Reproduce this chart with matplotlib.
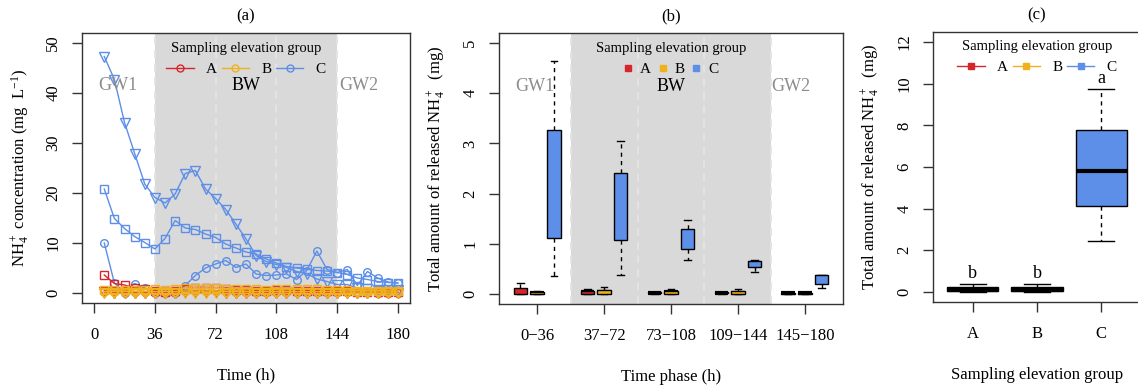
import numpy as np
import matplotlib
matplotlib.use("Agg")
import matplotlib.pyplot as plt
from matplotlib.lines import Line2D

plt.rcParams['font.family'] = ['Liberation Serif', 'DejaVu Serif']
plt.rcParams['mathtext.fontset'] = 'custom'
plt.rcParams['mathtext.rm'] = 'Liberation Serif'
plt.rcParams['mathtext.it'] = 'Liberation Serif:italic'
plt.rcParams['mathtext.bf'] = 'Liberation Serif:bold'

# ---- data: panel (a), NH4+ concentration every 6 h ----
time_h = np.arange(6, 181, 6)
A_circle = [0.5, 0.4, 0.4, 0.3, 0.3, 0.3, 0.2, 0.3, 0.4, 0.5, 0.5, 0.4, 0.4, 0.3, 0.3,
            0.2, 0.2, 0.3, 0.3, 0.3, 0.2, 0.2, 0.2, 0.2, 0.2, 0.2, 0.2, 0.1, 0.1, 0.1]
A_square = [3.6, 1.9, 1.6, 1.0, 0.8, 0.5, 0.3, 0.5, 0.9, 1.1, 1.1, 1.0, 0.9, 0.7, 0.6,
            0.5, 0.4, 0.6, 0.6, 0.5, 0.5, 0.5, 0.5, 0.4, 0.4, 0.3, 0.3, 0.3, 0.3, 0.2]
A_triangle = [0.2, 0.1, 0.1, 0.1, 0.1, 0.1, 0.1, 0.1, 0.2, 0.2, 0.2, 0.2, 0.1, 0.1, 0.1,
              0.1, 0.1, 0.1, 0.1, 0.1, 0.1, 0.1, 0.1, 0.1, 0.1, 0.1, 0.1, 0.1, 0.1, 0.1]
B_circle = [0.3, 0.3, 0.3, 0.3, 0.3, 0.3, 0.3, 0.3, 0.4, 0.4, 0.4, 0.4, 0.3, 0.3, 0.3,
            0.3, 0.3, 0.3, 0.3, 0.3, 0.3, 0.3, 0.3, 0.3, 0.2, 0.2, 0.2, 0.2, 0.2, 0.2]
B_square = [0.7, 0.6, 0.6, 0.7, 0.7, 0.8, 0.7, 0.8, 1.0, 1.0, 1.0, 1.0, 0.9, 0.9, 0.9,
            0.8, 0.7, 0.8, 0.8, 0.8, 0.8, 0.8, 0.7, 0.7, 0.6, 0.5, 0.5, 0.5, 0.4, 0.4]
B_triangle = [0.05, 0.05, 0.05, 0.05, 0.05, 0.05, 0.05, 0.05, 0.05, 0.05, 0.05, 0.05, 0.05, 0.05, 0.05,
              0.05, 0.05, 0.05, 0.05, 0.05, 0.05, 0.05, 0.05, 0.05, 0.05, 0.05, 0.05, 0.05, 0.05, 0.05]
C_circle = [10.0, 2.0, 0.1, 1.9, 1.0, 0.1, 0.0, 0.1, 1.5, 3.5, 5.0, 5.8, 6.5, 5.1, 5.8,
            3.8, 3.5, 3.6, 3.8, 2.7, 4.5, 8.4, 4.7, 4.1, 4.7, 1.5, 4.3, 3.0, 2.2, 2.0]
C_square = [20.8, 14.9, 12.9, 11.3, 10.1, 8.8, 10.9, 14.5, 13.0, 12.7, 11.8, 11.1, 9.8, 9.0, 8.2,
            7.8, 6.8, 6.0, 5.3, 5.0, 4.8, 4.5, 4.4, 4.1, 3.7, 3.0, 2.7, 2.3, 2.1, 2.0]
C_triangle = [47.3, 42.7, 34.1, 27.9, 21.8, 19.1, 18.0, 19.8, 23.9, 24.5, 20.8, 18.9, 16.7, 13.8, 10.8,
              7.5, 6.3, 5.7, 5.1, 4.3, 3.9, 2.8, 2.3, 1.7, 1.7, 1.0, 0.8, 0.7, 0.7, 0.7]

# ---- data: panel (b), released NH4+ per time phase (box summaries) ----
phases = ["0\u221236", "37\u221272", "73\u2212108", "109\u2212144", "145\u2212180"]
A_lo = [0.0, 0.0, 0.0, 0.0, 0.0]
A_q1 = [0.0, 0.0, 0.01, 0.01, 0.005]
A_med = [0.03, 0.03, 0.02, 0.02, 0.015]
A_q3 = [0.11, 0.06, 0.03, 0.03, 0.02]
A_hi = [0.21, 0.09, 0.03, 0.03, 0.02]
B_lo = [0.0, 0.0, 0.0, 0.0, 0.0]
B_q1 = [0.0, 0.0, 0.0, 0.0, 0.005]
B_med = [0.02, 0.03, 0.03, 0.02, 0.015]
B_q3 = [0.04, 0.08, 0.06, 0.05, 0.02]
B_hi = [0.05, 0.13, 0.10, 0.09, 0.02]
C_lo = [0.35, 0.38, 0.68, 0.43, 0.11]
C_q1 = [1.12, 1.08, 0.89, 0.53, 0.20]
C_med = [1.90, 1.79, 1.12, 0.61, 0.34]
C_q3 = [3.27, 2.42, 1.29, 0.66, 0.37]
C_hi = [4.65, 3.04, 1.47, 0.67, 0.38]

# ---- data: panel (c), total released NH4+ per elevation group ----
groups = ["A", "B", "C"]
tot_lo = [0.0, 0.0, 2.46]
tot_q1 = [0.05, 0.04, 4.12]
tot_med = [0.12, 0.10, 5.80]
tot_q3 = [0.26, 0.23, 7.78]
tot_hi = [0.37, 0.40, 9.74]
letters = ["b", "b", "a"]

colors = {"A": "#D7262B", "B": "#F0B11E", "C": "#5D8EE8"}
frame_col = "#333333"
dash_col = "#E4E4E4"


def style(ax):
    for s in ax.spines.values():
        s.set_linewidth(1)
        s.set_color(frame_col)
    ax.tick_params(direction='out', length=7, width=1, color=frame_col,
                   labelsize=12, pad=10)
    ax.tick_params(axis='y', labelrotation=90, pad=8)
    for lab in ax.get_yticklabels():
        lab.set_va('center')


W, H = 1138, 385
fig = plt.figure(figsize=(W / 100, H / 100), dpi=100)
ax1 = fig.add_axes([82 / W, 1 - 303 / H, 328 / W, 270 / H])
ax2 = fig.add_axes([499 / W, 1 - 304 / H, 344 / W, 271 / H])
ax3 = fig.add_axes([933 / W, 1 - 302 / H, 208 / W, 270 / H])

# ---------------- panel (a) ----------------
ax1.axvspan(36, 144, color='#D9D9D9', lw=0, zorder=0)
for x in [36, 72, 108, 144]:
    ax1.axvline(x, color=dash_col, lw=1.4, ls=(0, (4, 3)), zorder=0.5)

series = [("C", C_circle, 'o'), ("C", C_square, 's'), ("C", C_triangle, 'v'),
          ("A", A_circle, 'o'), ("A", A_square, 's'), ("A", A_triangle, 'v'),
          ("B", B_circle, 'o'), ("B", B_square, 's'), ("B", B_triangle, 'v')]
for g, vals, m in series:
    ms = 7 if m == 'v' else 5.5
    ax1.plot(time_h, vals, color=colors[g], marker=m, mfc='none', ms=ms,
             lw=1, mew=1, zorder=2)

ax1.text(14, 41.5, "GW1", color='#8C8C8C', fontsize=13, ha='center', va='center')
ax1.text(90, 41.5, "BW", color='black', fontsize=13, ha='center', va='center')
ax1.text(157, 41.5, "GW2", color='#8C8C8C', fontsize=13, ha='center', va='center')

ax1.set_xlim(-7.2, 187.2)
ax1.set_ylim(-2, 52)
ax1.set_xticks([0, 36, 72, 108, 144, 180])
ax1.set_yticks([0, 10, 20, 30, 40, 50])
style(ax1)
ax1.set_xlabel("Time (h)", fontsize=12, labelpad=18)
ax1.set_ylabel("NH$_4^+$ concentration (mg  L$^{-1}$)", fontsize=12, labelpad=10)
ax1.set_title("(a)", fontsize=12, pad=9)

h_a = [Line2D([0], [0], color=colors[g], marker='o', mfc='none', ms=5, lw=1)
       for g in groups]
ax1.legend(h_a, groups, title="Sampling elevation group", loc='upper center',
           ncol=3, frameon=False, fontsize=11, title_fontsize=10.5,
           handlelength=1.8, handletextpad=0.8, columnspacing=0.3,
           borderaxespad=0.2)

# ---------------- panel (b) ----------------
ax2.axvspan(1.5, 4.5, color='#D9D9D9', lw=0, zorder=0)
for x in [1.5, 2.5, 3.5, 4.5]:
    ax2.axvline(x, color=dash_col, lw=1.4, ls=(0, (4, 3)), zorder=0.5)

box_kw = dict(patch_artist=True, showfliers=False, manage_ticks=False,
              boxprops=dict(edgecolor='black', lw=1),
              medianprops=dict(color='black', lw=3, solid_capstyle='butt'),
              whiskerprops=dict(color='black', lw=1, ls=(0, (3, 3))),
              capprops=dict(color='black', lw=1))

summ = {"A": (A_lo, A_q1, A_med, A_q3, A_hi),
        "B": (B_lo, B_q1, B_med, B_q3, B_hi),
        "C": (C_lo, C_q1, C_med, C_q3, C_hi)}
offsets = {"A": -0.25, "B": 0.0, "C": 0.25}
pos_b = np.arange(1, len(phases) + 1)
for g in groups:
    lo, q1, med, q3, hi = summ[g]
    stats = [dict(whislo=lo[i], q1=q1[i], med=med[i], q3=q3[i], whishi=hi[i], fliers=[])
             for i in range(len(phases))]
    bp = ax2.bxp(stats, positions=pos_b + offsets[g], widths=0.2, capwidths=0.1,
                 **box_kw)
    for b in bp['boxes']:
        b.set_facecolor(colors[g])
        b.set_zorder(3)

ax2.text(0.97, 4.14, "GW1", color='#8C8C8C', fontsize=13, ha='center', va='center')
ax2.text(3.0, 4.14, "BW", color='black', fontsize=13, ha='center', va='center')
ax2.text(4.79, 4.14, "GW2", color='#8C8C8C', fontsize=13, ha='center', va='center')

ax2.set_xlim(0.43, 5.57)
ax2.set_ylim(-0.2, 5.2)
ax2.set_xticks(pos_b)
ax2.set_xticklabels(phases)
ax2.set_yticks([0, 1, 2, 3, 4, 5])
style(ax2)
ax2.set_xlabel("Time phase (h)", fontsize=12, labelpad=18)
ax2.set_ylabel("Total amount of released NH$_4^+$  (mg)", fontsize=12, labelpad=10)
ax2.set_title("(b)", fontsize=12, pad=9)

h_b = [Line2D([0], [0], color=colors[g], marker='s', ls='none', ms=5) for g in groups]
ax2.legend(h_b, groups, title="Sampling elevation group", loc='upper center',
           ncol=3, frameon=False, fontsize=11, title_fontsize=10.5,
           handlelength=0.6, handletextpad=0.5, columnspacing=0.45,
           borderaxespad=0.2)

# ---------------- panel (c) ----------------
pos_c = np.arange(1, len(groups) + 1)
stats_c = [dict(whislo=tot_lo[i], q1=tot_q1[i], med=tot_med[i], q3=tot_q3[i],
                whishi=tot_hi[i], fliers=[]) for i in range(len(groups))]
bp = ax3.bxp(stats_c, positions=pos_c, widths=0.8, capwidths=0.4, **box_kw)
for b, g in zip(bp['boxes'], groups):
    b.set_facecolor(colors[g])

for i, lt in enumerate(letters):
    ax3.text(pos_c[i], tot_hi[i] + 0.5, lt, fontsize=13, ha='center', va='center')

ax3.set_xlim(0.38, 3.62)
ax3.set_ylim(-0.48, 12.48)
ax3.set_xticks(pos_c)
ax3.set_xticklabels(groups)
ax3.set_yticks([0, 2, 4, 6, 8, 10, 12])
style(ax3)
ax3.set_xlabel("Sampling elevation group", fontsize=12, labelpad=18)
ax3.set_ylabel("Total amount of released NH$_4^+$  (mg)", fontsize=12, labelpad=10)
ax3.set_title("(c)", fontsize=12, pad=9)

h_c = [Line2D([0], [0], color=colors[g], marker='s', ms=4.5, lw=1) for g in groups]
ax3.legend(h_c, groups, title="Sampling elevation group", loc='upper center',
           ncol=3, frameon=False, fontsize=11, title_fontsize=10.5,
           handlelength=1.8, handletextpad=0.8, columnspacing=0.3,
           borderaxespad=0.1)

fig.savefig("out.png", dpi=100)
